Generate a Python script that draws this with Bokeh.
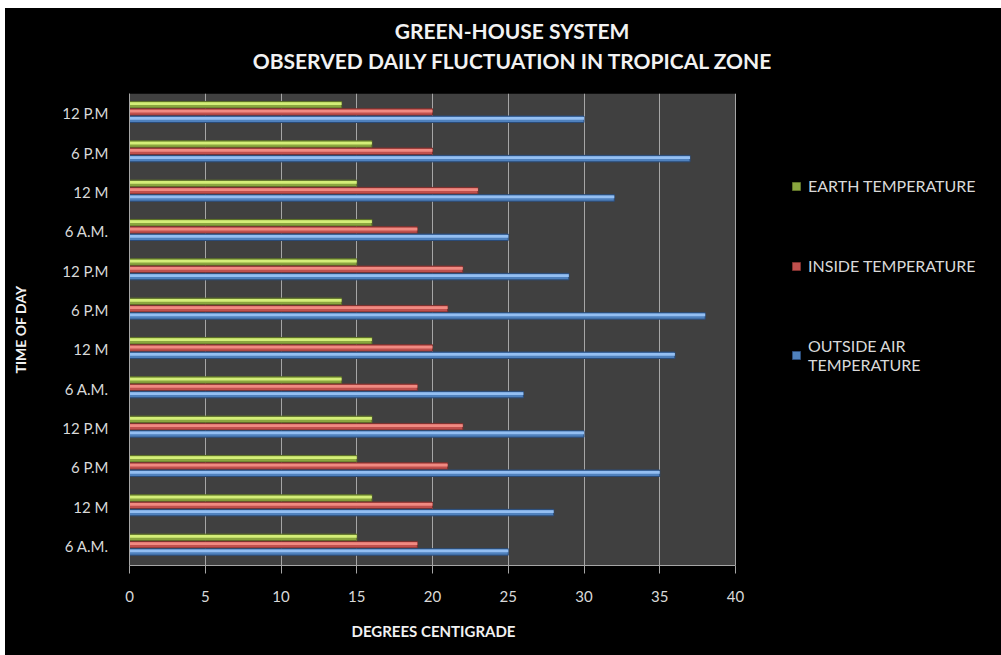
from bokeh.plotting import figure
from bokeh.layouts import column
from bokeh.models import (ColumnDataSource, FixedTicker, Legend, LegendItem, Title, Range1d,
                          BoxAnnotation, Div)
from bokeh.transform import dodge
from bokeh.embed import file_html
from bokeh.resources import INLINE

# ---- data (bottom to top) ----
times = ["6 A.M.", "12 M", "6 P.M", "12 P.M",
         "6 A.M.", "12 M", "6 P.M", "12 P.M",
         "6 A.M.", "12 M", "6 P.M", "12 P.M"]
outside_air = [25, 28, 35, 30, 26, 36, 38, 29, 25, 32, 37, 30]
inside_temp = [19, 20, 21, 22, 19, 20, 21, 22, 19, 23, 20, 20]
earth_temp = [15, 16, 15, 16, 14, 16, 14, 15, 16, 15, 16, 14]
x_ticks = [0, 5, 10, 15, 20, 25, 30, 35, 40]
x_max = 40
title_lines = ["GREEN-HOUSE SYSTEM", "OBSERVED DAILY FLUCTUATION IN TROPICAL ZONE"]

pos = list(range(1, len(times) + 1))
src = ColumnDataSource(dict(pos=pos, outside=outside_air, inside=inside_temp, earth=earth_temp))

FONT = "Lato"
TXT = "#d9d9d9"

# ---- title block ----
title_div = Div(
    text=('<div style="width:996px;box-sizing:border-box;padding-left:18px;padding-top:8px;'
          'text-align:center;line-height:30px;font-family:Lato;font-weight:bold;'
          'font-size:21px;color:#f2f2f2;">' + "<br>".join(title_lines) + "</div>"),
    width=996, height=85, margin=(0, 0, 0, 0), styles={"background-color": "black"})

# frame runs to the right edge so the legend can sit inside it; the grey plot
# area covers 0..40 only
FRAME_W = 996 - 124
PLOT_W = 606
p = figure(width=996, height=562,
           x_range=Range1d(0, x_max * FRAME_W / PLOT_W), y_range=Range1d(0.5, 12.5),
           output_backend="svg", toolbar_location=None, margin=(0, 0, 0, 0),
           min_border_left=124, min_border_right=0, min_border_top=0, min_border_bottom=82)
p.background_fill_color = None
p.border_fill_color = "black"
p.outline_line_color = None
p.add_layout(BoxAnnotation(left=0, right=x_max, fill_color="#404040", fill_alpha=1,
                           line_color=None, level="image"))

# grid
xg = p.xgrid[0]
xg.ticker = FixedTicker(ticks=x_ticks)
xg.grid_line_color = "#a6a6a6"
xg.grid_line_width = 1
xg.bounds = (0, x_max)
p.ygrid.grid_line_color = None

# axes
xa = p.xaxis[0]
ya = p.yaxis[0]
xa.ticker = FixedTicker(ticks=x_ticks)
xa.bounds = (0, x_max)
ya.ticker = FixedTicker(ticks=pos)
ya.major_label_overrides = {i: t for i, t in zip(pos, times)}
for ax in (xa, ya):
    ax.axis_line_color = "#a6a6a6"
    ax.major_tick_line_color = "#a6a6a6"
    ax.minor_tick_line_color = None
    ax.major_label_text_color = TXT
    ax.major_label_text_font = FONT
    ax.major_label_text_font_size = "15px"
    ax.axis_label_text_color = "#f2f2f2"
    ax.axis_label_text_font = FONT
    ax.axis_label_text_font_style = "bold"
    ax.axis_label_text_font_size = "14px"
xa.major_tick_out = 8
xa.major_tick_in = 0
xa.major_label_standoff = 17
ya.major_tick_out = 0
ya.major_tick_in = 0
ya.major_label_standoff = 21
ya.axis_label = "TIME OF DAY"
ya.axis_label_standoff = 30

# x-axis title centred under the 0..40 plot area
p.add_layout(Title(text="DEGREES CENTIGRADE", align="left", offset=222,
                   text_color="#f2f2f2", text_font=FONT, text_font_size="15px",
                   text_font_style="bold", standoff=31), "below")

# bars: base colour + highlight stripe for the glossy look
series = [
    ("earth", 0.215, "#8aa63f", "#d4ee78", "#5f7228"),
    ("inside", 0.03, "#c0504d", "#f08a82", "#7e302e"),
    ("outside", -0.155, "#4f81bd", "#94bff2", "#2a4b78"),
]
base = {}
for field, off, col, light, dark in series:
    base[field] = p.hbar(y=dodge("pos", off), left=0, right=field, height=0.165,
                         fill_color=col, line_color=dark, line_width=1, source=src)
    p.hbar(y=dodge("pos", off + 0.025), left=0, right=field, height=0.07,
           fill_color=light, line_color=None, source=src)

legend = Legend(items=[
    LegendItem(label="EARTH TEMPERATURE", renderers=[base["earth"]]),
    LegendItem(label="INSIDE TEMPERATURE", renderers=[base["inside"]]),
    LegendItem(label="OUTSIDE AIR\nTEMPERATURE", renderers=[base["outside"]]),
], location=(PLOT_W + 56, 191), padding=0, margin=0, spacing=61,
    border_line_color=None, background_fill_alpha=0,
    label_text_color=TXT, label_text_font=FONT, label_text_font_size="16px",
    label_text_line_height=1.3,
    glyph_width=10, glyph_height=10, label_standoff=7)
p.add_layout(legend, "center")

layout = column(title_div, p, spacing=0, margin=(8, 0, 0, 5),
                styles={"background-color": "black"})
open("out.html", "w").write(file_html(layout, INLINE))
